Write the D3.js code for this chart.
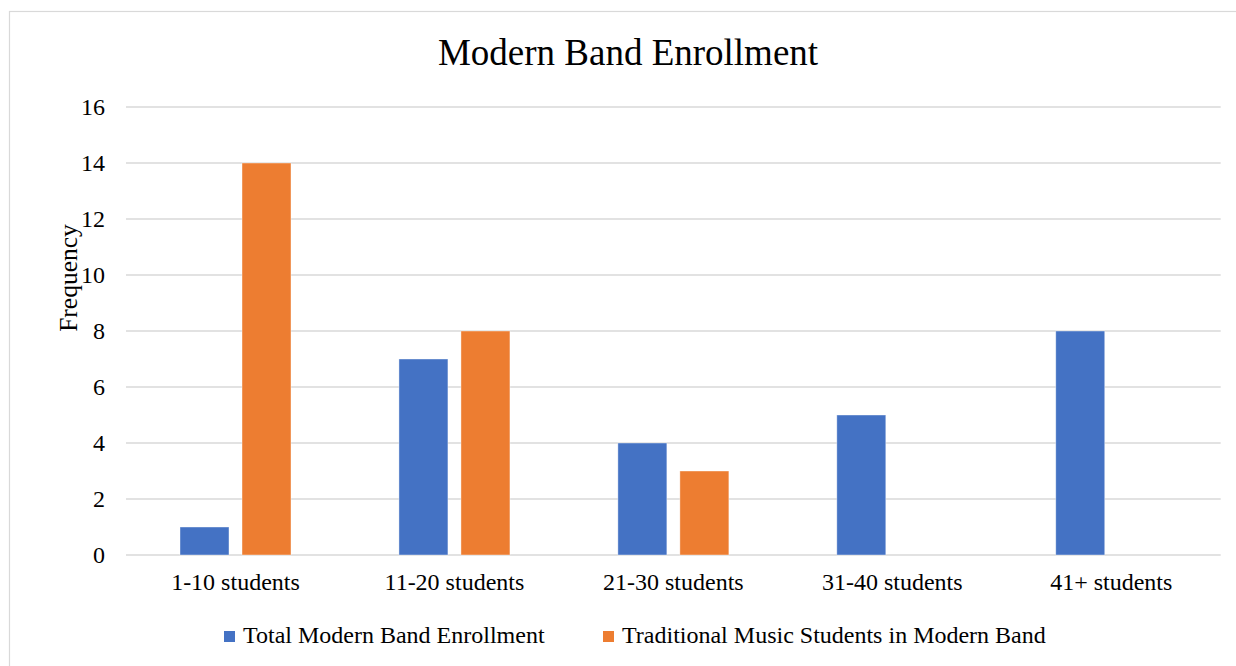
<!DOCTYPE html>
<html>
<head>
<meta charset="utf-8">
<script src="https://cdn.jsdelivr.net/npm/d3@7"></script>
<style>
  html, body { margin: 0; padding: 0; background: #fff; }
  svg { display: block; }
  svg text { font-family: "Liberation Serif", "Times New Roman", serif; }
</style>
</head>
<body>
<div id="chart"></div>
<script>
// Data
const categories = ["1-10 students", "11-20 students", "21-30 students", "31-40 students", "41+ students"];
const seriesNames = ["Total Modern Band Enrollment", "Traditional Music Students in Modern Band"];
const totalEnrollment = [1, 7, 4, 5, 8];
const traditionalStudents = [14, 8, 3, 0, 0];
const yTicks = [0, 2, 4, 6, 8, 10, 12, 14, 16];

const width = 1236, height = 666;
const colors = ["#4472C4", "#ED7D31"];
const gridColor = "#D9D9D9";
const plot = { left: 126, right: 1220.7, top: 107, bottom: 555 };

const svg = d3.select("#chart").append("svg")
    .attr("width", width)
    .attr("height", height);

// outer chart frame (runs off the right and bottom edges)
svg.append("rect")
    .attr("x", 9.5).attr("y", 11.5)
    .attr("width", 1240).attr("height", 670)
    .attr("fill", "#fff")
    .attr("stroke", gridColor).attr("stroke-width", 1.2);

const x0 = d3.scaleBand().domain(categories).range([plot.left, plot.right]).padding(0);
const x1 = d3.scaleBand().domain(seriesNames).range([54, 165]).paddingInner(0.21);
const y = d3.scaleLinear().domain([0, 16]).range([plot.bottom, plot.top]);

// gridlines
svg.append("g")
    .selectAll("line").data(yTicks).enter().append("line")
    .attr("x1", plot.left).attr("x2", plot.right)
    .attr("y1", d => y(d)).attr("y2", d => y(d))
    .attr("stroke", gridColor).attr("stroke-width", 1.5);

// y tick labels
svg.append("g")
    .selectAll("text").data(yTicks).enter().append("text")
    .attr("x", 105).attr("y", d => y(d) + 8)
    .attr("text-anchor", "end")
    .attr("font-size", "24px").attr("fill", "#000")
    .text(d => d);

// bars
const rows = categories.map((c, i) => ({ cat: c, values: [totalEnrollment[i], traditionalStudents[i]] }));
const groups = svg.append("g").selectAll("g").data(rows).enter().append("g")
    .attr("transform", d => `translate(${x0(d.cat)},0)`);

groups.selectAll("rect")
    .data(d => d.values.map((v, j) => ({ name: seriesNames[j], value: v, idx: j })))
    .enter().append("rect")
    .filter(d => d.value > 0)
    .attr("x", d => x1(d.name))
    .attr("width", x1.bandwidth())
    .attr("y", d => y(d.value))
    .attr("height", d => y(0) - y(d.value))
    .attr("fill", d => colors[d.idx])
    .attr("stroke", "#fff").attr("stroke-opacity", 0.5).attr("stroke-width", 0.8);

// x labels
svg.append("g")
    .selectAll("text").data(categories).enter().append("text")
    .attr("x", d => x0(d) + x0.bandwidth() / 2)
    .attr("y", 590)
    .attr("text-anchor", "middle")
    .attr("font-size", "24px").attr("fill", "#000")
    .text(d => d);

// title
svg.append("text")
    .attr("x", 628).attr("y", 65)
    .attr("text-anchor", "middle")
    .attr("font-size", "37px").attr("fill", "#000")
    .text("Modern Band Enrollment");

// y axis title
svg.append("text")
    .attr("transform", "translate(77,278) rotate(-90)")
    .attr("text-anchor", "middle")
    .attr("font-size", "25.5px").attr("fill", "#000")
    .text("Frequency");

// legend
const legendItems = [{ name: seriesNames[0], x: 224 }, { name: seriesNames[1], x: 603 }];
const legend = svg.append("g").selectAll("g").data(legendItems).enter().append("g")
    .attr("transform", d => `translate(${d.x},631)`);
legend.append("rect")
    .attr("width", 11).attr("height", 11)
    .attr("fill", (d, i) => colors[i]);
legend.append("text")
    .attr("x", 19).attr("y", 12)
    .attr("font-size", "24px").attr("fill", "#000")
    .text(d => d.name);
</script>
</body>
</html>
